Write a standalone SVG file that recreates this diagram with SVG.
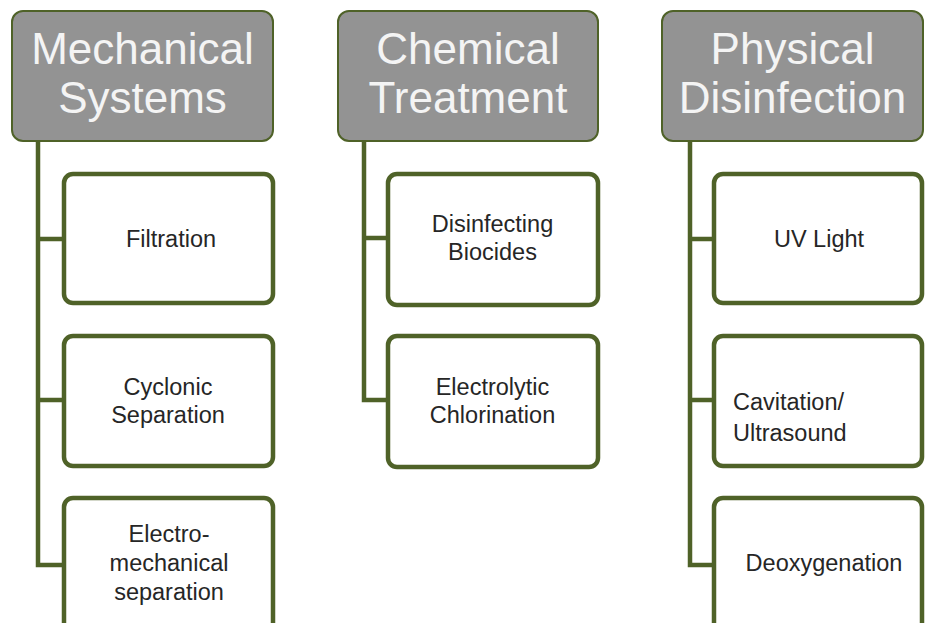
<svg xmlns="http://www.w3.org/2000/svg" width="928" height="623" viewBox="0 0 928 623">
<style>
.hdr{fill:#939393;stroke:#4f6228;stroke-width:2}
.box{fill:#ffffff;stroke:#4f6228;stroke-width:4.5}
.ln{fill:none;stroke:#4f6228;stroke-width:4.5;stroke-linejoin:miter}
.ht{font-family:"Liberation Sans",Arial,sans-serif;font-size:44px;fill:#f4f4f4;text-anchor:middle}
.bt{font-family:"Liberation Sans",Arial,sans-serif;font-size:23.5px;fill:#262626;text-anchor:middle}
.bl{text-anchor:start}
</style>
<rect width="928" height="623" fill="#ffffff"/>
<g id="connectors">
<path class="ln" d="M38 141V565H64M38 239H64M38 400H64"/>
<path class="ln" d="M364 141V400H388M364 238H388"/>
<path class="ln" d="M690 141V565H714M690 239H714M690 400H714"/>
</g>
<g id="mechanical">
<rect class="hdr" x="12" y="11" width="261" height="130" rx="11"/>
<text class="ht" x="142.5" y="64">Mechanical</text>
<text class="ht" x="142.5" y="113">Systems</text>
</g>
<g id="chemical">
<rect class="hdr" x="338" y="11" width="260" height="130" rx="11"/>
<text class="ht" x="468" y="64">Chemical</text>
<text class="ht" x="468" y="113">Treatment</text>
</g>
<g id="physical">
<rect class="hdr" x="662" y="11" width="261" height="130" rx="11"/>
<text class="ht" x="792.5" y="64">Physical</text>
<text class="ht" x="792.5" y="113">Disinfection</text>
</g>
<g id="filtration">
<rect class="box" x="64" y="174" width="209" height="129" rx="9"/>
<text class="bt" x="171" y="247">Filtration</text>
</g>
<g id="cyclonic">
<rect class="box" x="64" y="336" width="209" height="130" rx="9"/>
<text class="bt" x="168" y="395">Cyclonic</text>
<text class="bt" x="168" y="423">Separation</text>
</g>
<g id="electromechanical">
<rect class="box" x="64" y="498" width="209" height="140" rx="9"/>
<text class="bt" x="169" y="542">Electro-</text>
<text class="bt" x="169" y="571">mechanical</text>
<text class="bt" x="169" y="600">separation</text>
</g>
<g id="biocides">
<rect class="box" x="388" y="174" width="210" height="131" rx="9"/>
<text class="bt" x="492.5" y="232">Disinfecting</text>
<text class="bt" x="492.5" y="260">Biocides</text>
</g>
<g id="electrolytic">
<rect class="box" x="388" y="336" width="210" height="131" rx="9"/>
<text class="bt" x="492.5" y="395">Electrolytic</text>
<text class="bt" x="492.5" y="423">Chlorination</text>
</g>
<g id="uv">
<rect class="box" x="714" y="174" width="208" height="129" rx="9"/>
<text class="bt" x="819" y="247">UV Light</text>
</g>
<g id="cavitation">
<rect class="box" x="714" y="336" width="208" height="130" rx="9"/>
<text class="bt bl" x="733" y="410">Cavitation/</text>
<text class="bt bl" x="733" y="441">Ultrasound</text>
</g>
<g id="deoxygenation">
<rect class="box" x="714" y="498" width="208" height="140" rx="9"/>
<text class="bt" x="824" y="571">Deoxygenation</text>
</g>
</svg>
